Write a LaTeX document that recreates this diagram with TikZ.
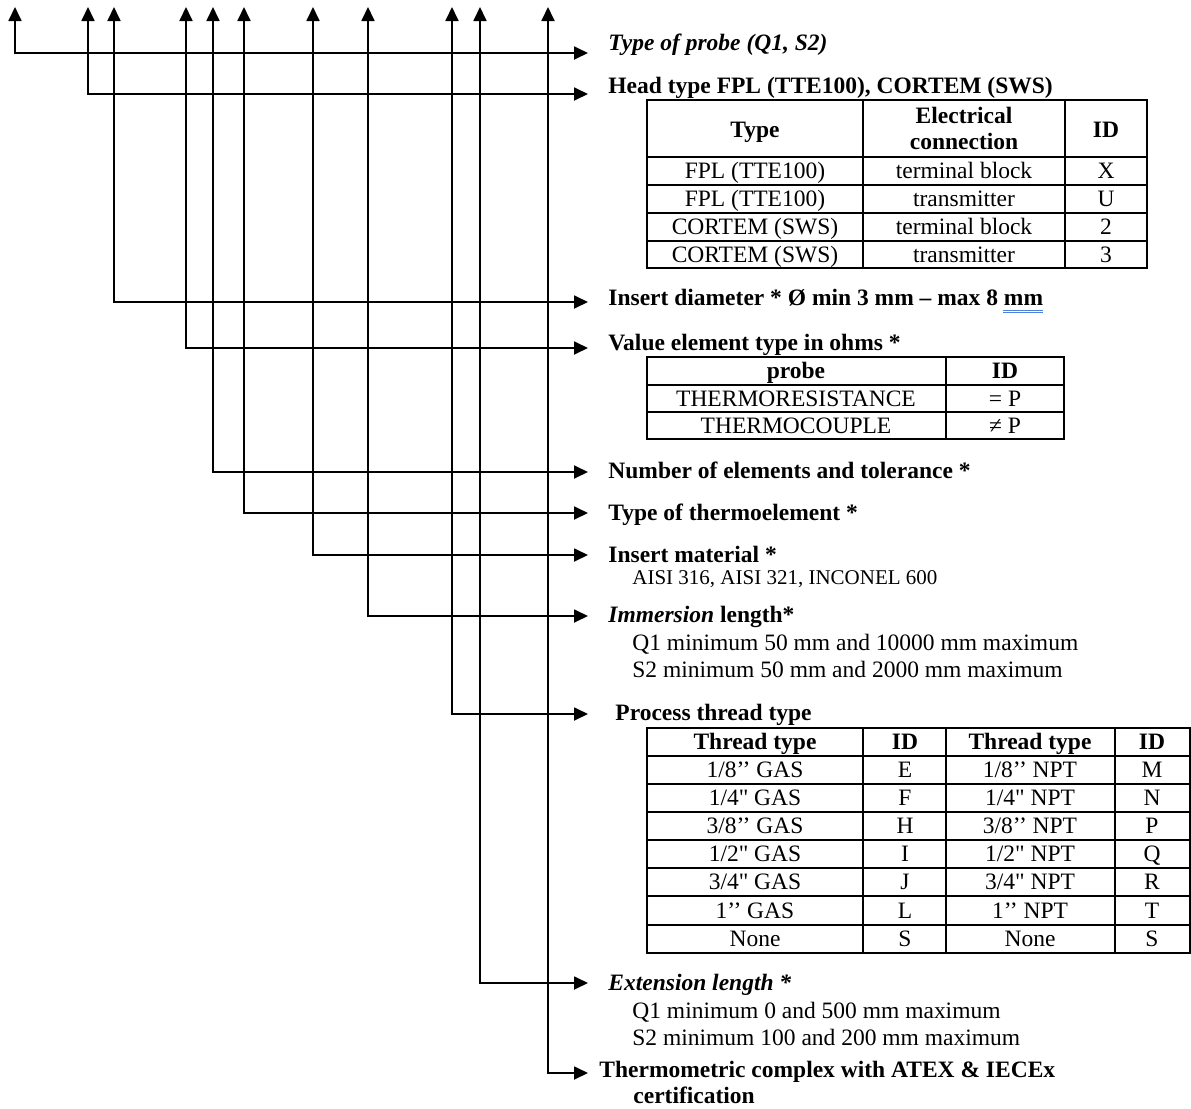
\documentclass[tikz,border=0pt]{standalone}
\usepackage{fontspec}
\setmainfont{Liberation Serif}
\usetikzlibrary{arrows.meta}
\newcommand\sq{{\XeTeXglyph\XeTeXglyphindex "quotedbl" \relax}}
\newcommand\fs{\fontsize{11.75}{14}\selectfont}
\begin{document}
\begin{tikzpicture}[x=0.5pt,y=-0.5pt,
  conn/.style={line width=0.9pt,{Triangle[length=7pt,width=6.5pt]}-{Triangle[length=7pt,width=6.5pt]}},
  lbl/.style={anchor=base west,inner sep=0pt,font=\fs\bfseries},
  lbli/.style={lbl,font=\fs\bfseries\itshape},
  sub/.style={anchor=base west,inner sep=0pt,font=\fs},
  cell/.style={anchor=base,inner sep=0pt,font=\fs},
  hcell/.style={anchor=base,inner sep=0pt,font=\fs\bfseries},
  grid/.style={line width=0.8pt},
  spell/.style={line width=0.45pt,color={rgb,255:red,80;green,130;blue,220}}]
\useasboundingbox (0,0) rectangle (1191,1109);

% connectors
\foreach \n/\x/\y in {1/15/53,2/88/94,3/114/302,4/186/348,5/213/472,6/244/513,7/313/555,8/368/616,9/452/714,10/480/983,11/548/1073}{
  \coordinate (top\n) at (\x,7);
  \coordinate (end\n) at (588,\y);
  \draw[conn] (top\n) |- (end\n);
}

% labels
\node[lbli] (l1) at (608,50) {Type of probe (Q1, S2)};
\node[lbl] (l2) at (608,93) {Head type FPL (TTE100), CORTEM (SWS)};
\node[lbl] (l3) at (608,305) {Insert diameter * Ø min 3 mm – max 8 mm};
\draw[spell] ([xshift=-20pt,yshift=-2.6pt]l3.base east) -- ([yshift=-2.6pt]l3.base east);
\draw[spell] ([xshift=-20pt,yshift=-3.6pt]l3.base east) -- ([yshift=-3.6pt]l3.base east);
\node[lbl] (l4) at (608,350) {Value element type in ohms *};
\node[lbl] (l5) at (608,478) {Number of elements and tolerance *};
\node[lbl] (l6) at (608,520) {Type of thermoelement *};
\node[lbl] (l7) at (608,562) {Insert material *};
\node[sub,font=\fontsize{10.5}{12}\selectfont] (s7) at (632,584) {AISI 316, AISI 321, INCONEL 600};
\node[lbl] (l8) at (608,622) {\itshape Immersion\upshape{} length*};
\node[sub] (s8a) at (632,650) {Q1 minimum 50 mm and 10000 mm maximum};
\node[sub] (s8b) at (632,677) {S2 minimum 50 mm and 2000 mm maximum};
\node[lbl] (l9) at (615,720) {Process thread type};
\node[lbli] (l10) at (608,990) {Extension length *};
\node[sub] (s10a) at (632,1018) {Q1 minimum 0 and 500 mm maximum};
\node[sub] (s10b) at (632,1045) {S2 minimum 100 and 200 mm maximum};
\node[lbl] (l11) at (599,1077) {Thermometric complex with ATEX \& IECEx};
\node[lbl] (l11b) at (633,1103) {certification};

% table 1
\draw[grid] (647,100) rectangle (1147,268);
\foreach \y in {157,185,213,241} \draw[grid] (647,\y) -- (1147,\y);
\foreach \x in {863,1065} \draw[grid] (\x,100) -- (\x,268);
\node[hcell] (ta1) at (755,137) {Type};
\node[hcell] (ta2) at (964,123) {Electrical};
\node[hcell] (ta3) at (964,149) {connection};
\node[hcell] (ta4) at (1106,137) {ID};
\foreach \r/\y/\a/\b/\c in {1/178/FPL (TTE100)/terminal block/X,2/206/FPL (TTE100)/transmitter/U,3/234/CORTEM (SWS)/terminal block/2,4/262/CORTEM (SWS)/transmitter/3}{
  \node[cell] (ta\r a) at (755,\y) {\a};
  \node[cell] (ta\r b) at (964,\y) {\b};
  \node[cell] (ta\r c) at (1106,\y) {\c};
}

% table 2
\draw[grid] (647,357) rectangle (1064,439);
\foreach \y in {385,412} \draw[grid] (647,\y) -- (1064,\y);
\draw[grid] (946,357) -- (946,439);
\node[hcell] (tb1) at (796,378) {probe};
\node[hcell] (tb2) at (1005,378) {ID};
\node[cell] (tb3) at (796,406) {THERMORESISTANCE};
\node[cell] (tb4) at (1005,406) {= P};
\node[cell] (tb5) at (796,433) {THERMOCOUPLE};
\node[cell] (tb6) at (1005,433) {≠ P};

% table 3
\draw[grid] (647,728) rectangle (1190,953);
\foreach \y in {756,784,812,840,868,896,925} \draw[grid] (647,\y) -- (1190,\y);
\foreach \x in {863,946,1115} \draw[grid] (\x,728) -- (\x,953);
\node[hcell] (tc1) at (755,749) {Thread type};
\node[hcell] (tc2) at (905,749) {ID};
\node[hcell] (tc3) at (1030,749) {Thread type};
\node[hcell] (tc4) at (1152,749) {ID};
\foreach \r/\y/\a/\b/\c/\d in {1/777/{1/8’’ GAS}/E/{1/8’’ NPT}/M,2/805/{1/4\sq{} GAS}/F/{1/4\sq{} NPT}/N,3/833/{3/8’’ GAS}/H/{3/8’’ NPT}/P,4/861/{1/2\sq{} GAS}/I/{1/2\sq{} NPT}/Q,5/889/{3/4\sq{} GAS}/J/{3/4\sq{} NPT}/R,6/918/{1’’ GAS}/L/{1’’ NPT}/T,7/946/None/S/None/S}{
  \node[cell] (tc\r a) at (755,\y) {\a};
  \node[cell] (tc\r b) at (905,\y) {\b};
  \node[cell] (tc\r c) at (1030,\y) {\c};
  \node[cell] (tc\r d) at (1152,\y) {\d};
}
\end{tikzpicture}
\end{document}
